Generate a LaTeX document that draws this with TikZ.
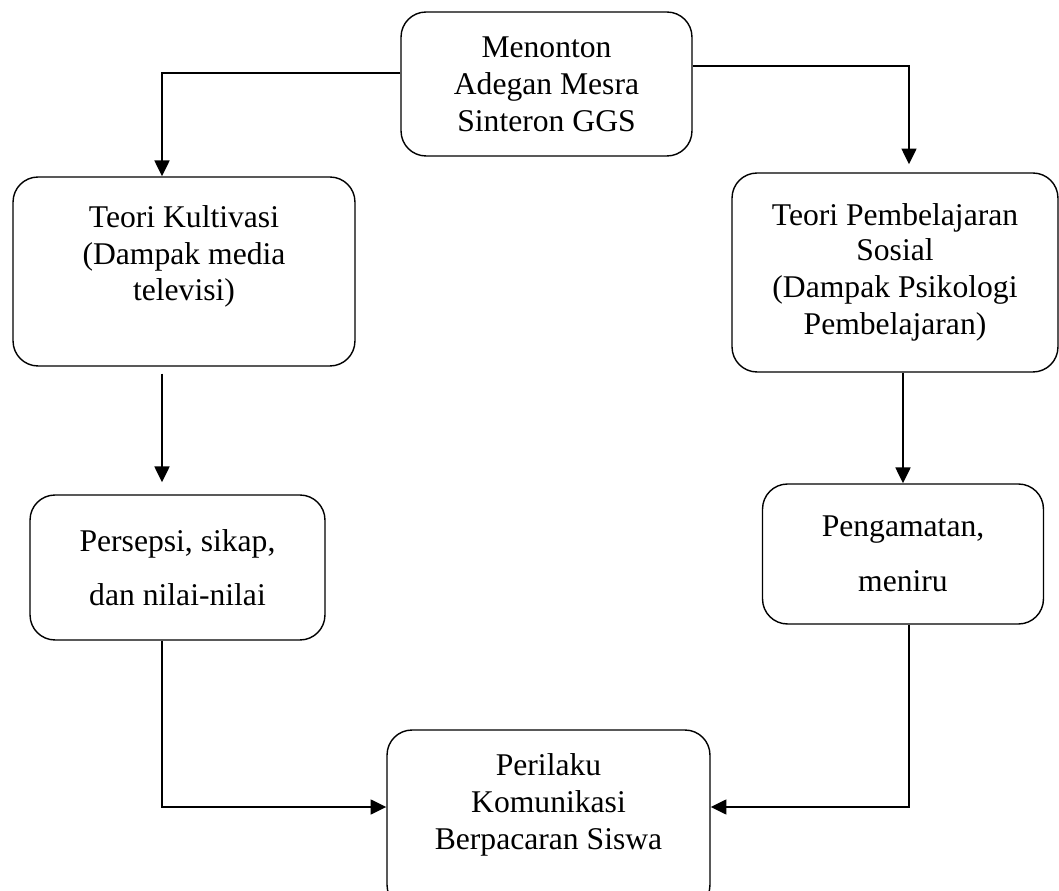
\documentclass[tikz,border=0pt]{standalone}
\usepackage{fontspec}
\setmainfont{Liberation Serif}
\usetikzlibrary{arrows.meta}

\begin{document}
\begin{tikzpicture}[x=0.02cm, y=-0.02cm,
	kotak/.style={draw, line width=0.8pt, rounded corners=0.5cm, align=center, font=\fontsize{18}{21}\selectfont},
	panah/.style={line width=1.1pt, -{Triangle[length=9pt,width=8.5pt]}}]
		\useasboundingbox (0,0) rectangle (1059,891);
		\node[kotak, minimum width=5.82cm, minimum height=2.88cm](menonton) at (546.5,84) {Menonton\\Adegan Mesra\\Sinteron GGS};
		\node[kotak, minimum width=6.84cm, minimum height=3.78cm](kultivasi) at (184,271.5) {Teori Kultivasi\\(Dampak media\\televisi)\\~};
		\node[kotak, minimum width=6.52cm, minimum height=3.98cm](sosial) at (895,272.5) {Teori Pembelajaran\\[-1pt]Sosial\\(Dampak Psikologi\\Pembelajaran)};
		\node[kotak, minimum width=5.9cm, minimum height=2.9cm](persepsi) at (177.5,567.5) {Persepsi, sikap,\\[10pt]dan nilai-nilai};
		\node[kotak, minimum width=5.62cm, minimum height=2.8cm](pengamatan) at (903,554) {Pengamatan,\\[10pt]meniru};
		\node[kotak, minimum width=6.46cm, minimum height=3.6cm](perilaku) at (548.5,820) {Perilaku\\Komunikasi\\Berpacaran Siswa\\~};
		\coordinate (lcol) at (162,0);
		\coordinate (rcol) at (909,0);
		\draw [panah] ([yshift=0.22cm]menonton.west) -| (kultivasi.north -| lcol);
		\draw [panah, shorten >=0.16cm] ([yshift=0.36cm]menonton.east) -| (sosial.north -| rcol);
		\draw [panah, shorten <=0.14cm, shorten >=0.24cm] (kultivasi.south -| lcol) -- (persepsi.north -| lcol);
		\draw [panah] (sosial.south -| pengamatan.north) -- (pengamatan.north);
		\draw [panah] (persepsi.south -| lcol) |- ([yshift=0.26cm]perilaku.west);
		\draw [panah] (pengamatan.south -| rcol) |- ([yshift=0.26cm]perilaku.east);
	\end{tikzpicture}
\end{document}
